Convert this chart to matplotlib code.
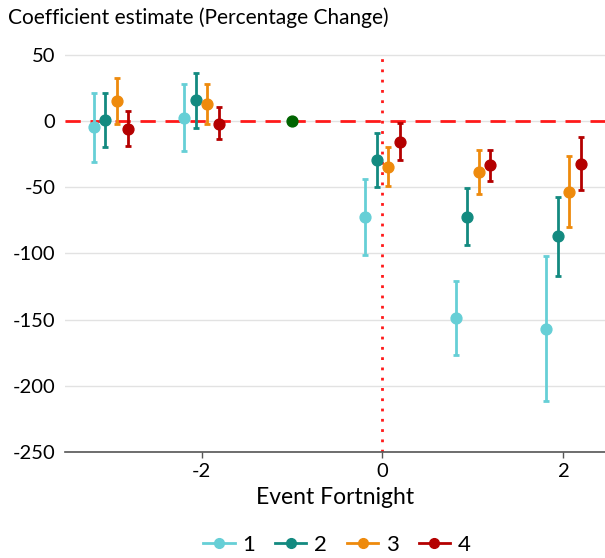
import matplotlib
matplotlib.use("Agg")
import matplotlib.pyplot as plt
from matplotlib.lines import Line2D
import numpy as np

plt.rcParams['font.family'] = ['Lato', 'DejaVu Sans']

# Event fortnights (relative to event) and series estimates
fortnights = [-3, -2, 0, 1, 2]
series_names = ["1", "2", "3", "4"]
colors = ["#66CFD6", "#138A80", "#EE8A0C", "#B40000"]

estimates = {
    "1": [-4.8, 2.5, -72.3, -149.0, -156.8],
    "2": [1.0, 15.4, -29.5, -72.3, -86.9],
    "3": [14.9, 12.8, -34.5, -38.8, -53.6],
    "4": [-5.8, -2.0, -16.1, -33.5, -32.2],
}
upper = {
    "1": [21.4, 28.2, -43.6, -121.0, -102.0],
    "2": [21.1, 36.0, -8.8, -50.6, -57.4],
    "3": [32.0, 28.2, -19.6, -22.2, -26.7],
    "4": [7.6, 10.6, -1.8, -21.9, -12.3],
}
lower = {
    "1": [-30.7, -22.9, -101.0, -177.0, -211.5],
    "2": [-19.4, -5.5, -50.0, -93.7, -116.8],
    "3": [-2.3, -2.3, -48.8, -55.1, -80.3],
    "4": [-19.1, -13.8, -29.5, -45.6, -52.3],
}

# Omitted reference period
ref_fortnight = -1
ref_value = 0.0

offsets = [-0.19, -0.065, 0.065, 0.19]

fig = plt.figure(figsize=(6.05, 5.58), dpi=100)
ax = fig.add_axes([65 / 605, 1 - 452 / 558, 540 / 605, (452 - 52) / 558])

ax.set_xlim(-3.51, 2.46)
ax.set_ylim(-250, 52)

ax.set_yticks(np.arange(-250, 51, 50))
ax.set_yticklabels([str(v) for v in range(-250, 51, 50)])
ax.set_xticks([-2, 0, 2])
ax.set_xticklabels(["-2", "0", "2"])

ax.grid(axis="y", color="#e2e2e2", linewidth=1.0)
ax.set_axisbelow(True)
for s in ["top", "right", "left"]:
    ax.spines[s].set_visible(False)
ax.spines["bottom"].set_color("#555555")
ax.spines["bottom"].set_linewidth(1.2)
ax.tick_params(axis="y", length=0, labelsize=14.5, pad=7, colors="black")
ax.tick_params(axis="x", length=4, width=1, color="#555555", labelsize=14.5, pad=4)

ax.axhline(0, color="#ff1a1a", linestyle=(0, (5.5, 3.5)), linewidth=2, zorder=1)
ax.axvline(0, color="#ff1a1a", linestyle=(0, (1, 2.7)), linewidth=2, zorder=1)

for i, name in enumerate(series_names):
    x = np.array(fortnights) + offsets[i]
    y = np.array(estimates[name])
    yerr = np.vstack([y - np.array(lower[name]), np.array(upper[name]) - y])
    ax.errorbar(x, y, yerr=yerr, fmt="o", color=colors[i], markersize=7.8,
                elinewidth=2, capsize=2, capthick=2, zorder=3)

ax.plot([ref_fortnight], [ref_value], "o", color="#006400", markersize=7.8, zorder=4)

ax.set_xlabel("Event Fortnight", fontsize=16.5, labelpad=5)
fig.text(8 / 605, 1 - 18 / 558, "Coefficient estimate (Percentage Change)",
         fontsize=15, va="center", ha="left")

handles = [Line2D([0], [0], color=c, marker="o", markersize=7, linewidth=2)
           for c in colors]
fig.legend(handles, series_names, loc="center", bbox_to_anchor=(337 / 605, 1 - 545 / 558),
           ncol=4, frameon=False, fontsize=16, handlelength=1.4,
           columnspacing=0.9, handletextpad=0.35)

fig.savefig("out.png", dpi=100)
